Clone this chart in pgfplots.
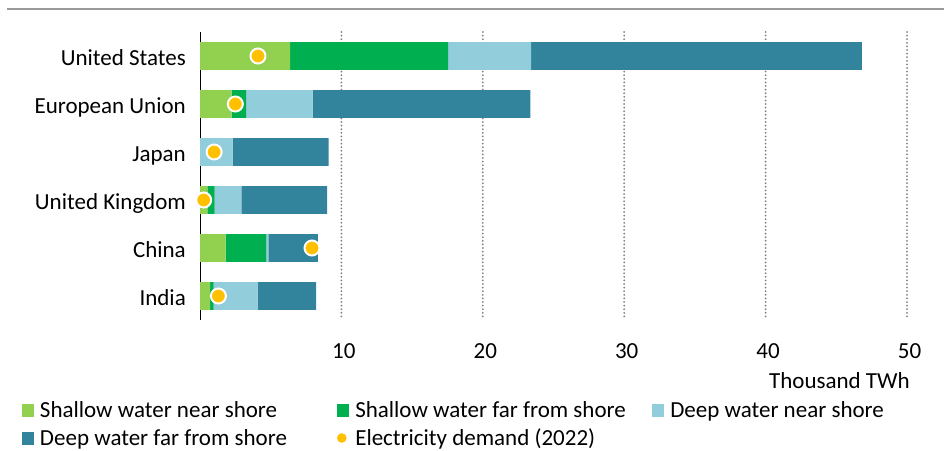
\documentclass[border=0pt]{standalone}
\usepackage{fontspec}
\setmainfont{Carlito}
\usepackage{pgfplots}
\pgfplotsset{compat=1.18}

\definecolor{snear}{HTML}{92D050}
\definecolor{sfar}{HTML}{00B050}
\definecolor{dnear}{HTML}{92CDDC}
\definecolor{dfar}{HTML}{31849B}
\definecolor{elec}{HTML}{FFC000}
\newcommand{\fsz}{\fontsize{23}{27}\selectfont}

\pgfplotsset{
  sq/.style={legend image code/.code={\fill[#1,draw=none] (0pt,0pt) rectangle (12pt,13pt);}},
  frame/.style={at={(200pt,130pt)}, anchor=south west, scale only axis,
    width=707pt, height=288pt, xmin=0, xmax=50, ymin=-0.5, ymax=5.5, y dir=reverse},
}

\begin{document}
\begin{tikzpicture}[x=1pt,y=1pt]
\useasboundingbox (0,0) rectangle (944,450);
\draw[color=black!40, line width=2.5pt] (7,441) -- (944,441);

\begin{axis}[
  frame,
  xbar stacked, bar width=0.58,
  xtick={10,20,30,40,50}, ytick={0,...,5},
  yticklabels={United States,European Union,Japan,United Kingdom,China,India},
  /pgf/number format/assume math mode=true,
  major tick length=0pt,
  axis x line*=bottom, axis y line*=left,
  x axis line style={draw=none},
  y axis line style={black, line width=1pt, -},
  xmajorgrids,
  grid style={color=black!50, line width=2pt, dash pattern=on 0pt off 3.6pt, line cap=round},
  tick label style={font=\fsz},
  xticklabel style={anchor=north, inner sep=0pt, yshift=-23pt, xshift=2.5pt},
  yticklabel style={anchor=base east, inner sep=0pt, xshift=-14pt, yshift=-9pt},
  xlabel={Thousand TWh},
  xlabel style={font=\fsz, at={(axis description cs:1,0)}, anchor=base east,
    inner sep=0pt, yshift=-68pt, xshift=3pt},
  legend columns=3,
  legend style={draw=none, fill=none, at={(axis description cs:-0.25177,-0.28125)},
    anchor=north west, inner sep=0pt, outer sep=0pt, column sep=6pt, row sep=7pt,
    font=\fsz, nodes={inner sep=0pt, text height=16pt, text depth=5pt},
    cells={anchor=base west}},
]
\addplot[fill=snear, draw=none, sq=snear] coordinates
  {(6.38,0) (2.24,1) (0,2) (0.52,3) (1.82,4) (0.71,5)};
\addlegendentry{\makebox[291pt][l]{Shallow water near shore}}
\addplot[fill=sfar, draw=none, sq=sfar] coordinates
  {(11.16,0) (1.02,1) (0,2) (0.52,3) (2.87,4) (0.26,5)};
\addlegendentry{\makebox[291pt][l]{Shallow water far from shore}}
\addplot[fill=dnear, draw=none, sq=dnear] coordinates
  {(5.88,0) (4.70,1) (2.30,2) (1.88,3) (0.14,4) (3.11,5)};
\addlegendentry{\makebox[291pt][l]{Deep water near shore}}
\addplot[fill=dfar, draw=none, sq=dfar] coordinates
  {(23.38,0) (15.40,1) (6.80,2) (6.07,3) (3.50,4) (4.13,5)};
\addlegendentry{\makebox[291pt][l]{Deep water far from shore}}
\addlegendimage{legend image code/.code={
  \path[draw=none,fill=none] (0pt,0pt) rectangle (12pt,13pt);
  \fill[elec,draw=none] (4.5pt,7pt) circle (4.8pt);}}
\addlegendentry{Electricity demand (2022)}
\end{axis}

\begin{axis}[frame, hide axis, clip=false]
\addplot[only marks, mark=*, mark size=7.5pt,
  mark options={fill=elec, draw=white, line width=2pt}] coordinates
  {(4.1,0) (2.5,1) (1.0,2) (0.26,3) (7.92,4) (1.3,5)};
\end{axis}
\end{tikzpicture}
\end{document}
